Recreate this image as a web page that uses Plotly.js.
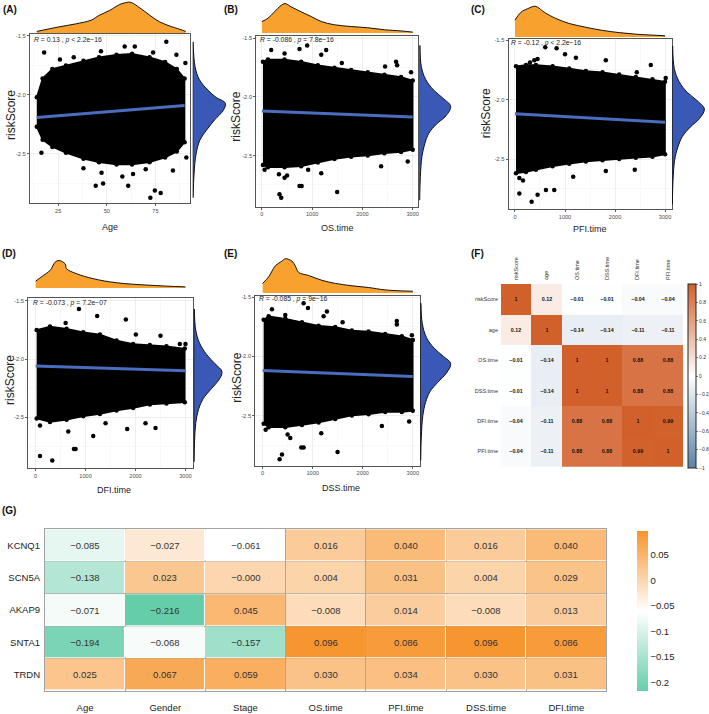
<!DOCTYPE html>
<html><head><meta charset="utf-8">
<script src="https://cdn.plot.ly/plotly-3.0.1.min.js"></script>
<style>html,body{margin:0;padding:0;background:#fff;}#chart{width:709px;height:714px;}</style>
</head><body><div id="chart"></div>
<script>
// ================= DATA =================
// (A) Age vs riskScore
const ageEnvX  = [14, 17, 22, 29, 38, 46, 55, 63, 72, 80, 86, 90];
const ageEnvHi = [-2.02, -1.86, -1.78, -1.75, -1.71, -1.68, -1.66, -1.65, -1.68, -1.72, -1.78, -1.86];
const ageEnvLo = [-2.27, -2.38, -2.44, -2.49, -2.54, -2.57, -2.59, -2.59, -2.57, -2.53, -2.48, -2.40];
const ageOutX  = [80.6, 59.2, 64.4, 17.8, 73.8, 85.8, 25.9, 90.4, 33, 47, 16.4, 90.9, 84, 47.3, 58, 63.5, 44.3, 48.1, 61, 72.4, 74.7, 77.7, 70, 38];
const ageOutY  = [-1.55, -1.59, -1.59, -1.64, -1.64, -1.66, -1.70, -1.73, -1.68, -1.63, -2.49, -2.53, -2.64, -2.66, -2.69, -2.67, -2.77, -2.75, -2.77, -2.87, -2.81, -2.83, -2.63, -2.62];
const ageFitX  = [14, 90];
const ageFitY  = [-2.19, -2.09];
const ageDensX = [14, 25, 34, 42, 46, 51.5, 56.7, 61, 62.7, 67, 72, 77, 82, 87.5, 90.6];
const ageDensD = [0.05, 0.19, 0.29, 0.41, 0.56, 0.72, 0.91, 0.98, 0.97, 0.80, 0.57, 0.36, 0.23, 0.12, 0.05];
const ageRiskY = [-1.55, -1.76, -1.87, -1.96, -2.02, -2.07, -2.13, -2.21, -2.30, -2.38, -2.50, -2.67, -2.87];
const ageRiskD = [0.01, 0.07, 0.2, 0.46, 0.7, 0.98, 0.92, 0.66, 0.41, 0.22, 0.1, 0.04, 0.01];

// (B) OS.time vs riskScore
const osEnvX  = [20, 119, 450, 781, 1113, 1444, 1775, 2106, 2437, 2768, 3000];
const osEnvHi = [-1.70, -1.68, -1.68, -1.70, -1.73, -1.75, -1.77, -1.79, -1.81, -1.83, -1.86];
const osEnvLo = [-2.58, -2.60, -2.60, -2.59, -2.56, -2.53, -2.51, -2.50, -2.48, -2.47, -2.45];
const osOutX  = [185, 450, 748, 900, 1278, 1180, 1589, 2669, 2690, 2967, 2450, 338, 450, 500, 748, 790, 350, 384, 1180, 1497, 2371, 2900, 53, 920];
const osOutY  = [-1.60, -1.63, -1.59, -1.56, -1.60, -1.64, -1.71, -1.70, -1.73, -1.79, -1.74, -2.66, -2.69, -2.67, -2.76, -2.76, -2.83, -2.86, -2.65, -2.81, -2.59, -2.55, -2.62, -2.62];
const osFitX  = [0, 3000];
const osFitY  = [-2.12, -2.17];
const osDensX = [0, 120, 250, 385, 460, 580, 780, 980, 1180, 1440, 1775, 2100, 2440, 2770, 3000];
const osDensD = [0.39, 0.5, 0.72, 0.94, 1.0, 0.89, 0.72, 0.56, 0.39, 0.28, 0.22, 0.18, 0.11, 0.07, 0.03];
const osRiskY = [-1.56, -1.74, -1.85, -1.94, -2.01, -2.08, -2.16, -2.23, -2.31, -2.40, -2.51, -2.68, -2.88];
const osRiskD = [0.02, 0.06, 0.2, 0.45, 0.75, 1.0, 0.85, 0.55, 0.3, 0.17, 0.08, 0.03, 0.01];

// (C) PFI.time vs riskScore
const pfiEnvX  = [20, 220, 419, 752, 1085, 1417, 1750, 2083, 2415, 2748, 3000];
const pfiEnvHi = [-1.72, -1.71, -1.71, -1.72, -1.74, -1.76, -1.77, -1.79, -1.81, -1.83, -1.85];
const pfiEnvLo = [-2.62, -2.61, -2.59, -2.56, -2.54, -2.52, -2.51, -2.50, -2.49, -2.48, -2.46];
const pfiOutX  = [87, 333, 452, 619, 785, 1164, 1816, 2395, 87, 160, 605, 832, 1218, 1816, 2715, 2435, 3013, 386, 452, 300, 1000];
const pfiOutY  = [-2.79, -2.86, -2.80, -2.76, -2.76, -2.65, -2.60, -2.59, -2.66, -2.68, -1.56, -1.57, -1.65, -1.67, -1.71, -1.77, -1.82, -1.67, -1.66, -1.69, -1.62];
const pfiFitX  = [0, 3000];
const pfiFitY  = [-2.12, -2.19];
const pfiDensX = [0, 120, 250, 386, 452, 585, 818, 1085, 1417, 1750, 2083, 2415, 2748, 3000];
const pfiDensD = [0.54, 0.79, 0.9, 0.98, 0.95, 0.79, 0.59, 0.43, 0.31, 0.21, 0.14, 0.09, 0.06, 0.04];
const pfiRiskY = [-1.55, -1.74, -1.85, -1.94, -2.01, -2.08, -2.16, -2.23, -2.31, -2.40, -2.51, -2.68, -2.88];
const pfiRiskD = [0.02, 0.07, 0.22, 0.47, 0.78, 1.0, 0.85, 0.57, 0.32, 0.18, 0.08, 0.03, 0.01];

// (D) DFI.time vs riskScore
const dfiEnvX  = [20, 287, 620, 953, 1287, 1620, 1953, 2287, 2620, 2987];
const dfiEnvHi = [-1.75, -1.72, -1.74, -1.77, -1.79, -1.84, -1.87, -1.88, -1.89, -1.91];
const dfiEnvLo = [-2.51, -2.54, -2.52, -2.49, -2.47, -2.44, -2.42, -2.39, -2.38, -2.37];
const dfiOutX  = [867, 1233, 1807, 2007, 2500, 2887, 3000, 320, 600, 87, 333, 767, 800, 1153, 1833, 2400, 653, 87, 2200, 1400];
const dfiOutY  = [-1.57, -1.63, -1.66, -1.79, -1.80, -1.87, -1.87, -1.74, -1.69, -2.83, -2.87, -2.77, -2.77, -2.66, -2.60, -2.59, -2.62, -2.57, -2.55, -2.55];
const dfiFitX  = [0, 3000];
const dfiFitY  = [-2.06, -2.10];
const dfiDensX = [0, 150, 290, 390, 470, 590, 620, 820, 1150, 1620, 2290, 3000];
const dfiDensD = [0.25, 0.45, 0.64, 0.94, 1.0, 0.88, 0.70, 0.52, 0.34, 0.19, 0.10, 0.04];
const dfiRiskY = [-1.57, -1.75, -1.86, -1.96, -2.04, -2.11, -2.18, -2.26, -2.34, -2.43, -2.55, -2.70, -2.88];
const dfiRiskD = [0.02, 0.07, 0.2, 0.45, 0.75, 1.0, 0.88, 0.6, 0.33, 0.17, 0.07, 0.03, 0.01];

// (E) DSS.time vs riskScore
const dssEnvX  = [20, 120, 452, 785, 1118, 1450, 1783, 2116, 2448, 2781, 3000];
const dssEnvHi = [-1.69, -1.66, -1.68, -1.71, -1.74, -1.75, -1.78, -1.79, -1.81, -1.83, -1.86];
const dssEnvLo = [-2.57, -2.60, -2.60, -2.58, -2.56, -2.53, -2.50, -2.49, -2.47, -2.47, -2.46];
const dssOutX  = [186, 452, 818, 905, 1218, 1284, 1597, 2681, 2681, 2981, 339, 386, 499, 552, 772, 818, 1171, 1497, 2382, 2927, 60];
const dssOutY  = [-1.60, -1.65, -1.55, -1.59, -1.66, -1.62, -1.71, -1.70, -1.73, -1.82, -2.87, -2.83, -2.66, -2.69, -2.77, -2.77, -2.65, -2.81, -2.59, -2.55, -2.62];
const dssFitX  = [0, 3000];
const dssFitY  = [-2.12, -2.17];
const dssDensX = [0, 120, 253, 386, 452, 585, 652, 719, 918, 1184, 1450, 1783, 2116, 2448, 3000];
const dssDensD = [0.28, 0.47, 0.79, 0.93, 1.0, 0.93, 0.79, 0.6, 0.51, 0.37, 0.28, 0.21, 0.16, 0.09, 0.05];
const dssRiskY = [-1.55, -1.72, -1.84, -1.93, -2.00, -2.06, -2.14, -2.22, -2.30, -2.39, -2.50, -2.68, -2.88];
const dssRiskD = [0.02, 0.06, 0.2, 0.45, 0.76, 1.0, 0.86, 0.57, 0.31, 0.17, 0.08, 0.03, 0.01];

const statLabels = [
  '<i>R</i> = 0.13 , <i>p</i> &lt; 2.2e−16',
  '<i>R</i> = -0.086 , <i>p</i> = 7.8e−16',
  '<i>R</i> = -0.12 , <i>p</i> &lt; 2.2e−16',
  '<i>R</i> = -0.073 , <i>p</i> = 7.2e−07',
  '<i>R</i> = -0.085 , <i>p</i> = 9e−16'
];
const xTitles = ['Age', 'OS.time', 'PFI.time', 'DFI.time', 'DSS.time'];
const panelLetters = ['(A)', '(B)', '(C)', '(D)', '(E)', '(F)', '(G)'];
const ageTicks = [25, 50, 75];
const timeTicks = [0, 1000, 2000, 3000];
const riskTicks = [-1.5, -2.0, -2.5];
const riskTickText = ['-1.5', '-2.0', '-2.5'];

// (F) correlation matrix
const corrVars   = ['riskScore', 'age', 'OS.time', 'DSS.time', 'DFI.time', 'PFI.time'];
const corrRisk   = [1, 0.12, -0.01, -0.01, -0.04, -0.04];
const corrAge    = [0.12, 1, -0.14, -0.14, -0.11, -0.11];
const corrOS     = [-0.01, -0.14, 1, 1, 0.88, 0.88];
const corrDSS    = [-0.01, -0.14, 1, 1, 0.88, 0.88];
const corrDFI    = [-0.04, -0.11, 0.88, 0.88, 1, 0.99];
const corrPFI    = [-0.04, -0.11, 0.88, 0.88, 0.99, 1];
const corrTicks  = [1, 0.8, 0.6, 0.4, 0.2, 0, -0.2, -0.4, -0.6, -0.8, -1];

// (G) gene–clinical correlation heatmap
const genes    = ['KCNQ1', 'SCN5A', 'AKAP9', 'SNTA1', 'TRDN'];
const clinical = ['Age', 'Gender', 'Stage', 'OS.time', 'PFI.time', 'DSS.time', 'DFI.time'];
const gKCNQ1 = [-0.085, -0.027, -0.061, 0.016, 0.040, 0.016, 0.040];
const gSCN5A = [-0.138, 0.023, -0.0002, 0.004, 0.031, 0.004, 0.029];
const gAKAP9 = [-0.071, -0.216, 0.045, -0.008, 0.014, -0.008, 0.013];
const gSNTA1 = [-0.194, -0.068, -0.157, 0.096, 0.086, 0.096, 0.086];
const gTRDN  = [0.025, 0.067, 0.059, 0.030, 0.034, 0.030, 0.031];
const gTicks = [0.05, 0, -0.05, -0.1, -0.15, -0.2];

// ================= LAYOUT / DRAWING =================
const W = 709, H = 714;
const px = v => v / W, py = v => 1 - v / H;
const FONT = 'Liberation Sans, Arial, Helvetica, sans-serif';
const traces = [];
const annotations = [];
const layout = {
  width: W, height: H, margin: {l: 0, r: 0, t: 0, b: 0},
  paper_bgcolor: '#ffffff', plot_bgcolor: '#ffffff', showlegend: false,
  font: {family: FONT, color: '#222'}, annotations: annotations
};
let axN = 0;
function newAxes() {
  axN++;
  const s = axN === 1 ? '' : String(axN);
  return {x: 'x' + s, y: 'y' + s, xk: 'xaxis' + s, yk: 'yaxis' + s};
}
const minus = s => s.replace(/-/g, '\u2212');

const panels = [
  {envX: ageEnvX, hi: ageEnvHi, lo: ageEnvLo, ox: ageOutX, oy: ageOutY, fx: ageFitX, fy: ageFitY,
   dX: ageDensX, dD: ageDensD, rY: ageRiskY, rD: ageRiskD, ticks: ageTicks, minor: 12.5,
   box: [30, 190.7, 34.3, 203.3], xr: [10.5, 93], yr: [-2.918, -1.486], top: [1, 33], right: [193, 227],
   title: [110, 227], ylab: [11, 115], stat: [32, 40], letter: [1, 10]},
  {envX: osEnvX, hi: osEnvHi, lo: osEnvLo, ox: osOutX, oy: osOutY, fx: osFitX, fy: osFitY,
   dX: osDensX, dD: osDensD, rY: osRiskY, rD: osRiskD, ticks: timeTicks, minor: 500,
   box: [256.7, 419, 36, 206.7], xr: [-111, 3113], yr: [-2.936, -1.48], top: [3, 33], right: [420, 452],
   title: [338, 228], ylab: [236, 117], stat: [258, 40], letter: [222, 10]},
  {envX: pfiEnvX, hi: pfiEnvHi, lo: pfiEnvLo, ox: pfiOutX, oy: pfiOutY, fx: pfiFitX, fy: pfiFitY,
   dX: pfiDensX, dD: pfiDensD, rY: pfiRiskY, rD: pfiRiskD, ticks: timeTicks, minor: 500,
   box: [509.3, 672.7, 39.3, 209], xr: [-128, 3134], yr: [-2.92, -1.494], top: [5, 37], right: [673, 706],
   title: [591, 229], ylab: [487, 113], stat: [510, 43], letter: [470, 10]},
  {envX: dfiEnvX, hi: dfiEnvHi, lo: dfiEnvLo, ox: dfiOutX, oy: dfiOutY, fx: dfiFitX, fy: dfiFitY,
   dX: dfiDensX, dD: dfiDensD, rY: dfiRiskY, rD: dfiRiskD, ticks: timeTicks, minor: 500,
   box: [28.3, 193.3, 298.3, 468.3], xr: [-148, 3152], yr: [-2.936, -1.479], top: [260, 288], right: [194, 223],
   title: [114, 490], ylab: [10, 380], stat: [31, 303], letter: [0, 253]},
  {envX: dssEnvX, hi: dssEnvHi, lo: dssEnvLo, ox: dssOutX, oy: dssOutY, fx: dssFitX, fy: dssFitY,
   dX: dssDensX, dD: dssDensD, rY: dssRiskY, rD: dssRiskD, ticks: timeTicks, minor: 500,
   box: [255.7, 420.7, 295.7, 465.7], xr: [-146, 3146], yr: [-2.925, -1.486], top: [258, 293], right: [421, 452],
   title: [341, 488], ylab: [237, 378], stat: [257, 299], letter: [222, 253]}
];

panels.forEach((p, i) => {
  const m = newAxes(), t = newAxes(), r = newAxes();
  const xdom = [px(p.box[0]), px(p.box[1])];
  const ydom = [py(p.box[3]), py(p.box[2])];
  layout[m.xk] = {
    domain: xdom, range: p.xr, anchor: m.y, tickmode: 'array', tickvals: p.ticks,
    ticks: 'outside', ticklen: 2, tickwidth: 0.8, tickcolor: '#333',
    tickfont: {size: 5.6, color: '#4D4D4D'}, showgrid: true, gridcolor: '#EBEBEB', gridwidth: 0.8,
    minor: {tickmode: 'linear', tick0: 0, dtick: p.minor, showgrid: true, gridcolor: '#F4F4F4', gridwidth: 0.5},
    showline: true, mirror: true, linecolor: '#555', linewidth: 1, zeroline: false
  };
  layout[m.yk] = {
    domain: ydom, range: p.yr, anchor: m.x, tickmode: 'array', tickvals: riskTicks, ticktext: riskTickText,
    ticks: 'outside', ticklen: 2, tickwidth: 0.8, tickcolor: '#333',
    tickfont: {size: 5.8, color: '#4D4D4D'}, showgrid: true, gridcolor: '#EBEBEB', gridwidth: 0.8,
    minor: {tickmode: 'linear', tick0: -1.5, dtick: 0.25, showgrid: true, gridcolor: '#F4F4F4', gridwidth: 0.5},
    showline: true, mirror: true, linecolor: '#555', linewidth: 1, zeroline: false
  };
  layout[t.xk] = {domain: xdom, range: p.xr, anchor: t.y, visible: false};
  layout[t.yk] = {domain: [py(p.top[1]), py(p.top[0])], range: [0, 1.02], anchor: t.x, visible: false};
  layout[r.xk] = {domain: [px(p.right[0]), px(p.right[1])], range: [0, 1.02], anchor: r.y, visible: false};
  layout[r.yk] = {domain: ydom, range: p.yr, anchor: r.x, visible: false};

  // dense point cloud body
  traces.push({type: 'scatter', mode: 'lines', xaxis: m.x, yaxis: m.y, hoverinfo: 'skip',
    x: p.envX.concat(p.envX.slice().reverse()), y: p.hi.concat(p.lo.slice().reverse()),
    fill: 'toself', fillcolor: '#000', line: {color: '#000', width: 1.5}});
  traces.push({type: 'scatter', mode: 'markers', xaxis: m.x, yaxis: m.y, hoverinfo: 'skip',
    x: p.envX.concat(p.envX), y: p.hi.concat(p.lo), marker: {size: 4.5, color: '#000'}});
  traces.push({type: 'scatter', mode: 'markers', xaxis: m.x, yaxis: m.y, hoverinfo: 'skip',
    x: p.ox, y: p.oy, marker: {size: 4.5, color: '#000'}});
  traces.push({type: 'scatter', mode: 'lines', xaxis: m.x, yaxis: m.y, hoverinfo: 'skip',
    x: p.fx, y: p.fy, line: {color: '#4A6DBF', width: 3}});
  // marginal densities
  traces.push({type: 'scatter', mode: 'lines', xaxis: t.x, yaxis: t.y, hoverinfo: 'skip',
    x: p.dX, y: p.dD, fill: 'tozeroy', fillcolor: '#F8A12F', line: {color: '#111', width: 1, shape: 'spline'}});
  traces.push({type: 'scatter', mode: 'lines', xaxis: r.x, yaxis: r.y, hoverinfo: 'skip',
    x: p.rD, y: p.rY, fill: 'tozerox', fillcolor: '#3A59B7', line: {color: '#111', width: 1, shape: 'spline'}});
  traces.push({type: 'scatter', mode: 'lines', xaxis: r.x, yaxis: r.y, hoverinfo: 'skip',
    x: [0, 0], y: [p.rY[0], p.rY[p.rY.length - 1]], line: {color: '#111', width: 1.2}});

  annotations.push({xref: 'paper', yref: 'paper', x: px(p.title[0]), y: py(p.title[1]), text: xTitles[i],
    showarrow: false, xanchor: 'center', yanchor: 'middle', font: {size: 9, color: '#222'}});
  annotations.push({xref: 'paper', yref: 'paper', x: px(p.ylab[0]), y: py(p.ylab[1]), text: 'riskScore',
    textangle: -90, showarrow: false, xanchor: 'center', yanchor: 'middle', font: {size: 12, color: '#222'}});
  annotations.push({xref: 'paper', yref: 'paper', x: px(p.stat[0]), y: py(p.stat[1]), text: statLabels[i],
    showarrow: false, xanchor: 'left', yanchor: 'middle', font: {size: 6.8, color: '#222'}});
  annotations.push({xref: 'paper', yref: 'paper', x: px(p.letter[0]), y: py(p.letter[1]), text: '<b>' + panelLetters[i] + '</b>',
    showarrow: false, xanchor: 'left', yanchor: 'middle', font: {size: 10, color: '#111'}});
});

// ---------- (F) correlation heatmap ----------
const fA = newAxes();
const zF = [corrRisk, corrAge, corrOS, corrDSS, corrDFI, corrPFI];
const tF = zF.map(row => row.map(v => v === 1 ? '1' : minus(v.toFixed(2))));
const idxF = corrVars.map((_, i) => i);
layout[fA.xk] = {domain: [px(501.7), px(684)], range: [-0.5, 5.5], anchor: fA.y, side: 'top',
  tickmode: 'array', tickvals: idxF, ticktext: corrVars, tickangle: -90, ticks: '', ticklabelstandoff: 3,
  tickfont: {size: 5.5, color: '#333'}, showgrid: false, zeroline: false, showline: false};
layout[fA.yk] = {domain: [py(466.7), py(284)], range: [5.5, -0.5], anchor: fA.x,
  tickmode: 'array', tickvals: idxF, ticktext: corrVars, ticks: '', ticklabelstandoff: 2,
  tickfont: {size: 5.5, color: '#333'}, showgrid: false, zeroline: false, showline: false};
traces.push({type: 'heatmap', xaxis: fA.x, yaxis: fA.y, x: idxF, y: idxF, z: zF, text: tF,
  texttemplate: '<b>%{text}</b>', textfont: {size: 5.3, color: '#111'}, hoverinfo: 'skip',
  zmin: -1, zmax: 1, colorscale: [[0, '#5A83AA'], [0.5, '#FFFFFF'], [1, '#D2602A']],
  colorbar: {x: px(688.3), xanchor: 'left', y: py(376), yanchor: 'middle', len: 184 / H, lenmode: 'fraction',
    thickness: 7.5, thicknessmode: 'pixels', xpad: 0, ypad: 0, outlinewidth: 1, outlinecolor: '#222',
    tickmode: 'array', tickvals: corrTicks, ticktext: corrTicks.map(v => minus(String(v))),
    ticks: 'outside', ticklen: 2, tickwidth: 0.6, tickcolor: '#333', tickfont: {size: 5, color: '#333'}}});
annotations.push({xref: 'paper', yref: 'paper', x: px(470), y: py(253), text: '<b>' + panelLetters[5] + '</b>',
  showarrow: false, xanchor: 'left', yanchor: 'middle', font: {size: 10, color: '#111'}});

// ---------- (G) gene heatmap ----------
const gA = newAxes();
const zG = [gKCNQ1, gSCN5A, gAKAP9, gSNTA1, gTRDN];
const tG = zG.map(row => row.map(v => minus(v.toFixed(3))));
const idxGx = clinical.map((_, i) => i), idxGy = genes.map((_, i) => i);
const allG = zG.flat();
const gMin = Math.min(...allG), gMax = Math.max(...allG);
layout[gA.xk] = {domain: [px(45), px(607.3)], range: [-0.5, 6.5], anchor: gA.y,
  tickmode: 'array', tickvals: idxGx, ticktext: clinical, ticks: '', ticklabelstandoff: 8,
  tickfont: {size: 9.5, color: '#222'}, showgrid: false, zeroline: false,
  minor: {tickmode: 'linear', tick0: 0.5, dtick: 1, showgrid: true, gridcolor: '#A3A3A3', gridwidth: 1},
  showline: true, mirror: true, linecolor: '#A3A3A3', linewidth: 1};
layout[gA.yk] = {domain: [py(690.7), py(529.3)], range: [4.5, -0.5], anchor: gA.x,
  tickmode: 'array', tickvals: idxGy, ticktext: genes, ticks: '', ticklabelstandoff: 2,
  tickfont: {size: 9.5, color: '#222'}, showgrid: false, zeroline: false,
  minor: {tickmode: 'linear', tick0: 0.5, dtick: 1, showgrid: true, gridcolor: '#A3A3A3', gridwidth: 1},
  showline: true, mirror: true, linecolor: '#A3A3A3', linewidth: 1};
traces.push({type: 'heatmap', xaxis: gA.x, yaxis: gA.y, x: idxGx, y: idxGy, z: zG, text: tG,
  texttemplate: '%{text}', textfont: {size: 9.5, color: '#333'}, hoverinfo: 'skip', xgap: 1, ygap: 1,
  zmin: gMin, zmax: gMax, colorscale: [[0, '#66CDAA'], [0.5, '#FFFFFF'], [1, '#F7952E']],
  colorbar: {x: px(637.3), xanchor: 'left', y: py(611), yanchor: 'middle', len: 160 / H, lenmode: 'fraction',
    thickness: 10.5, thicknessmode: 'pixels', xpad: 0, ypad: 0, outlinewidth: 0,
    tickmode: 'array', tickvals: gTicks, ticktext: gTicks.map(v => minus(String(v))),
    ticks: '', tickfont: {size: 9.5, color: '#222'}}});
annotations.push({xref: 'paper', yref: 'paper', x: px(0), y: py(510), text: '<b>' + panelLetters[6] + '</b>',
  showarrow: false, xanchor: 'left', yanchor: 'middle', font: {size: 10, color: '#111'}});

Plotly.newPlot('chart', traces, layout, {staticPlot: true, displayModeBar: false});
</script>
</body></html>
